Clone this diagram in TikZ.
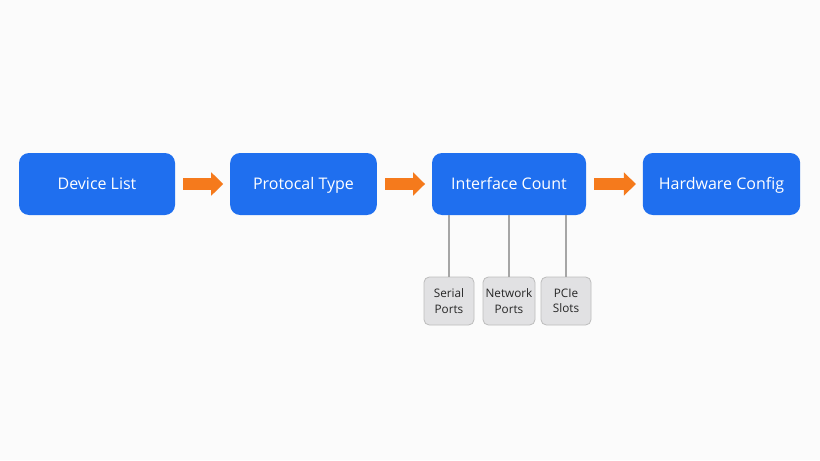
\documentclass[tikz,border=0pt]{standalone}
\usepackage{fontspec}
\setmainfont{Open Sans}
\usetikzlibrary{arrows.meta}
\definecolor{boxblue}{HTML}{1F6FEF}
\definecolor{flowor}{HTML}{F57A1C}
\definecolor{subgray}{HTML}{E1E1E3}
\definecolor{subline}{HTML}{BDBDBD}

\begin{document}
\begin{tikzpicture}[x=0.75pt,y=-0.75pt,
  mainbox/.style={draw=none,fill=boxblue,text=white,rounded corners=7.5pt,
    minimum height=46.5pt,text height=1.85ex,text depth=0.3ex,
    font=\fontsize{12}{14}\selectfont},
  subbox/.style={draw=subline,fill=subgray,text=black!85,rounded corners=4pt,
    minimum height=36pt,align=center,line width=0.6pt,inner sep=1pt,
    font=\fontsize{8.8}{11.5}\selectfont},
  flow/.style={draw=flowor,line width=9pt,-{Triangle[length=9pt,width=17pt]},
    shorten <=6pt,shorten >=5pt},
  link/.style={draw=gray!70,line width=0.8pt}]
\fill[white!97!gray] (0,0) rectangle (820,460);
\useasboundingbox (0,0) rectangle (820,460);

\node[mainbox,minimum width=117pt] (dev) at (97,184) {Device List};
\node[mainbox,minimum width=110pt] (proto) at (303.5,184) {Protocal Type};
\node[mainbox,minimum width=115.5pt] (ifc) at (509,184) {Interface Count};
\node[mainbox,minimum width=118pt] (hw) at (721.5,184) {Hardware Config};

\draw[flow] (dev) -- (proto);
\draw[flow] (proto) -- (ifc);
\draw[flow] (ifc) -- (hw);

\node[subbox,minimum width=37.5pt] (ser) at (449,301) {Serial\\Ports};
\node[subbox,minimum width=39pt] (net) at (509,301) {Network\\Ports};
\node[subbox,minimum width=37.5pt] (pci) at (566,301) {PCIe\\Slots};

\draw[link] (ser.north) -- (ser.north |- ifc.south);
\draw[link] (net.north) -- (net.north |- ifc.south);
\draw[link] (pci.north) -- (pci.north |- ifc.south);
\end{tikzpicture}
\end{document}
